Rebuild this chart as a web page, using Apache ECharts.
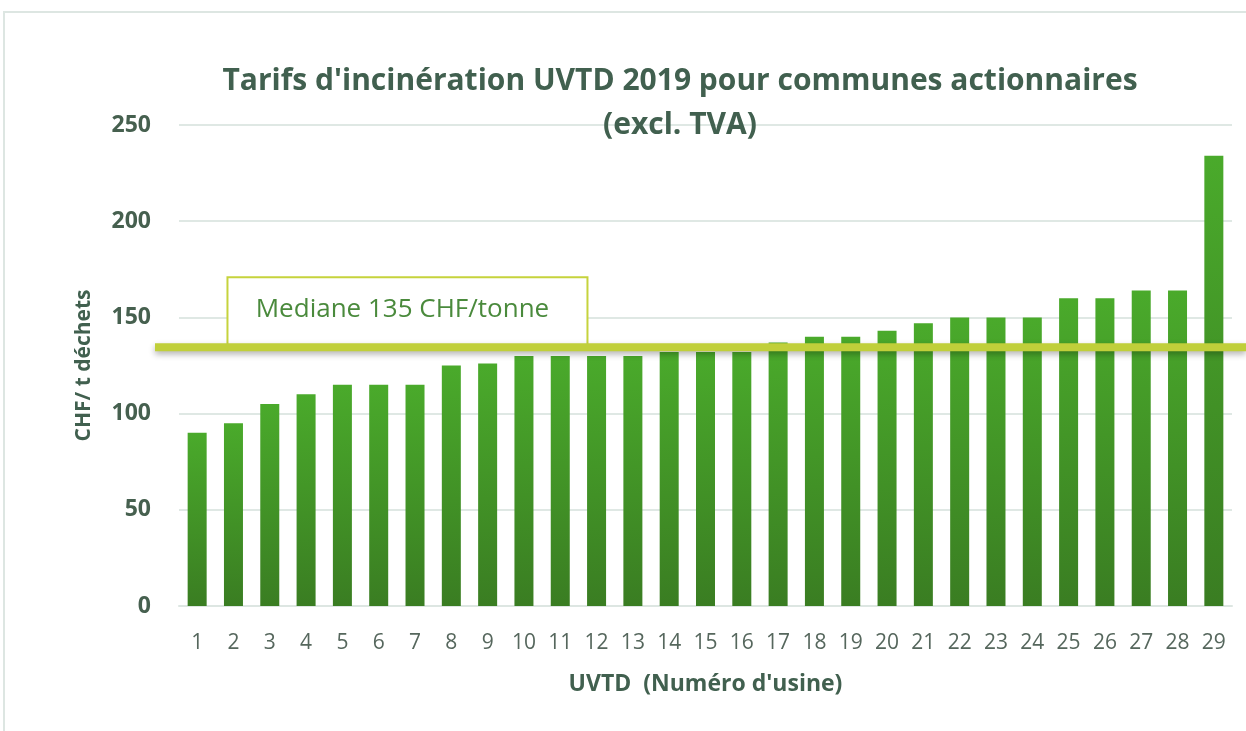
<!DOCTYPE html>
<html><head><meta charset="utf-8">
<script src="https://cdn.jsdelivr.net/npm/echarts@6/dist/echarts.min.js"></script>
<style>html,body{margin:0;padding:0;background:#fff}#c{width:1246px;height:731px}</style>
</head><body><div id="c"></div>
<script>
const categories = ['1','2','3','4','5','6','7','8','9','10','11','12','13','14','15','16','17','18','19','20','21','22','23','24','25','26','27','28','29'];
const tarifs = [90,95,105,110,115,115,115,125,126,130,130,130,130,132,132,132,137,140,140,143,147,150,150,150,160,160,164,164,234];
const yTicks = [0,50,100,150,200,250];
const median = 135;
const titleText = "Tarifs d'incinération UVTD 2019 pour communes actionnaires\n(excl. TVA)";
const medianLabel = 'Mediane 135 CHF/tonne';
const yName = 'CHF/ t déchets';
const xName = "UVTD  (Numéro d'usine)";

const FONT = '"Open Sans", "Liberation Sans", sans-serif';
const chart = echarts.init(document.getElementById('c'), null, {renderer:'canvas'});
chart.setOption({
  animation:false,
  backgroundColor:'#fff',
  title:{text:titleText,left:675,textAlign:'center',top:54,
    textStyle:{fontFamily:FONT,fontSize:30,fontWeight:'bold',color:'#41604f',lineHeight:44}},
  grid:{left:179,right:14,top:125,bottom:125},
  xAxis:{type:'category',data:categories,
    axisLine:{lineStyle:{color:'#dde6e2',width:2}},axisTick:{show:false},
    axisLabel:{fontFamily:FONT,fontSize:21,color:'#56675d',margin:27},
    name:xName,nameLocation:'middle',nameGap:67,
    nameTextStyle:{fontFamily:FONT,fontSize:23,fontWeight:'bold',color:'#41604f'}},
  yAxis:{type:'value',min:0,max:250,interval:50,
    axisLine:{show:false},axisTick:{show:false},
    splitLine:{lineStyle:{color:'#dfe8e4',width:2}},
    axisLabel:{fontFamily:FONT,fontSize:23,fontWeight:'bold',color:'#46604f',margin:28,
      formatter:v=>yTicks.includes(v)?String(v):''},
    name:yName,nameLocation:'middle',nameGap:84,nameRotate:90,
    nameTextStyle:{fontFamily:FONT,fontSize:21,fontWeight:'bold',color:'#41604f'}},
  series:[{type:'bar',data:tarifs,barWidth:19,
    itemStyle:{color:new echarts.graphic.LinearGradient(0,0,0,1,[{offset:0,color:'#4aaa2b'},{offset:1,color:'#3a7d22'}]),
      shadowColor:'rgba(0,0,0,0.25)',shadowBlur:5,shadowOffsetX:2,shadowOffsetY:1}}]
});
const ly = chart.convertToPixel({yAxisIndex:0}, median) + 1;
const bx0 = chart.convertToPixel({xAxisIndex:0}, '2') - 6;
chart.setOption({graphic:[
  {type:'polyline',shape:{points:[[4,731],[4,12],[1246,12]]},style:{stroke:'#dde6e2',lineWidth:2,fill:null},silent:true},
  {type:'rect',shape:{x:bx0,y:ly-70,width:360,height:70},style:{fill:'#fff',stroke:'#c6d33c',lineWidth:2},z:100},
  {type:'text',x:bx0+175,y:ly-38,style:{text:medianLabel,fontFamily:FONT,fontSize:26,fill:'#4a8a3c',align:'center',verticalAlign:'middle'},z:101},
  {type:'line',shape:{x1:155,y1:ly,x2:1246,y2:ly},style:{stroke:'#c0cf3a',lineWidth:8,shadowColor:'rgba(0,0,0,0.3)',shadowBlur:6,shadowOffsetY:3},z:102}
]});
</script></body></html>
